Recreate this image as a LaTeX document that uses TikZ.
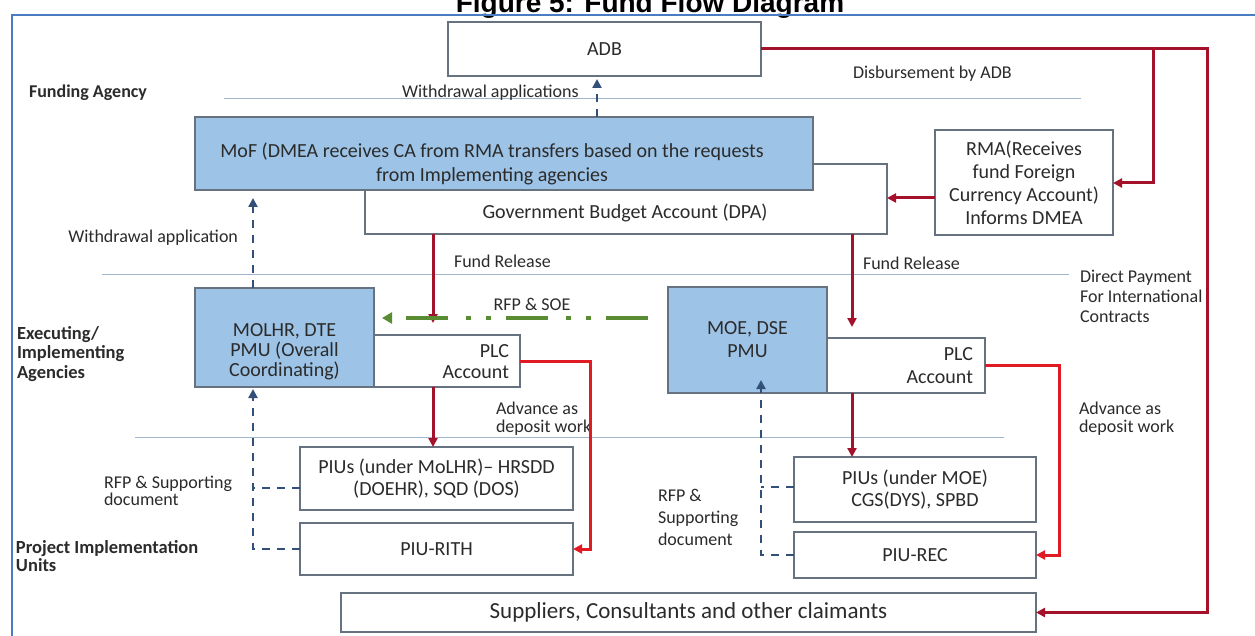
\documentclass[tikz,border=0pt]{standalone}
\usepackage{fontspec}
\setmainfont{Carlito}
\newfontfamily\titlefont{Liberation Sans}
\usetikzlibrary{arrows.meta}
\definecolor{bluefill}{HTML}{9DC3E6}
\definecolor{boxline}{HTML}{66727F}
\definecolor{framecol}{HTML}{4A7CC4}
\definecolor{sepcol}{HTML}{9FB6CC}
\definecolor{darkred}{HTML}{A3122A}
\definecolor{brightred}{HTML}{E01B24}
\definecolor{dashblue}{HTML}{33507A}
\definecolor{dashgreen}{HTML}{5A8C33}
\definecolor{txt}{HTML}{2B2B2B}
\begin{document}
\begin{tikzpicture}[x=1pt,y=-1pt,
  bx/.style={draw=boxline,line width=1.2pt,fill=white,inner sep=0pt,outer sep=0pt,text=txt,align=center,font=\fontsize{20}{22}\selectfont},
  bluebx/.style={bx,fill=bluefill},
  lbl/.style={inner sep=0pt,outer sep=0pt,text=txt,font=\fontsize{18}{20}\selectfont},
  blbl/.style={lbl,font=\fontsize{18}{19}\selectfont\bfseries},
  sepline/.style={draw=sepcol,line width=1pt},
  tipr/.style={-{Triangle[length=9pt,width=9pt]}},
  redline/.style={draw=darkred,line width=3pt},
  brightline/.style={draw=brightred,line width=3pt},
  bdash/.style={draw=dashblue,line width=2.5pt,dash pattern=on 8pt off 7pt},
  gdash/.style={draw=dashgreen,line width=4pt,dash pattern=on 42pt off 15pt on 5pt off 15pt on 5pt off 18pt}
]
\useasboundingbox (0,0) rectangle (1255,636);
\clip (0,0) rectangle (1255,636);
\fill[white] (0,0) rectangle (1255,636);

% title and frame
\node[anchor=base,inner sep=0pt,font={\fontsize{28}{30}\titlefont\bfseries}] (title) at (650,13) {Figure 5: Fund Flow Diagram};
\draw[framecol,line width=2pt] (12,15) rectangle (1290,680);

% separator lines
\draw[sepline] (224,99) -- (1081,99);
\draw[sepline] (102,275) -- (1069,275);
\draw[sepline] (135,437) -- (1004,437);

% boxes
\node[bx,minimum width=313pt,minimum height=54pt] (adb) at (604.5,49) {ADB};
\node[bx,minimum width=522pt,minimum height=70pt] (gov) at (626,199) {};
\node[bluebx,minimum width=618pt,minimum height=73pt] (mof) at (504,153.5) {};
\node[lbl,align=center,font=\fontsize{20}{24}\selectfont] (moftext) at (492,164) {MoF (DMEA receives CA from RMA transfers based on the requests\\from Implementing agencies};
\node[lbl,font=\fontsize{20}{22}\selectfont] (govtext) at (625,213) {Government Budget Account (DPA)};
\node[bx,minimum width=178pt,minimum height=105pt,font=\fontsize{20}{23}\selectfont] (rma) at (1024,182.5) {RMA(Receives\\fund Foreign\\Currency Account)\\Informs DMEA};

\node[bluebx,minimum width=179pt,minimum height=99pt] (molhr) at (284.5,337.5) {};
\node[lbl,align=center,font=\fontsize{20}{20}\selectfont] (molhrtext) at (284.5,352) {MOLHR, DTE\\PMU (Overall\\Coordinating)};
\node[bx,minimum width=146pt,minimum height=52pt] (plca) at (447,361) {};
\node[lbl,anchor=east,align=right,font=\fontsize{20}{21}\selectfont] (plcatext) at (509,362) {PLC\\Account};
\node[bluebx,minimum width=159pt,minimum height=106pt,font=\fontsize{20}{23}\selectfont] (moe) at (747.5,340) {MOE, DSE\\PMU};
\node[bx,minimum width=158pt,minimum height=55pt] (plcb) at (906,365.5) {};
\node[lbl,anchor=east,align=right,font=\fontsize{20}{23}\selectfont] (plcbtext) at (973,366) {PLC\\Account};

\node[bx,minimum width=273pt,minimum height=63pt] (piusa) at (436.5,478.5) {PIUs (under MoLHR)-- HRSDD\\(DOEHR), SQD (DOS)};
\node[bx,minimum width=273pt,minimum height=52pt] (piurith) at (436.5,549) {PIU-RITH};
\node[bx,minimum width=242pt,minimum height=65pt] (piusb) at (915,489.5) {PIUs (under MOE)\\CGS(DYS), SPBD};
\node[bx,minimum width=242pt,minimum height=46pt] (piurec) at (915,555) {PIU-REC};
\node[bx,minimum width=695pt,minimum height=39pt,font=\fontsize{23}{25}\selectfont] (supp) at (688.5,612.5) {Suppliers, Consultants and other claimants};

% labels
\node[blbl,anchor=west] (lfund) at (29,93) {Funding Agency};
\node[blbl,anchor=west,align=left,font=\fontsize{18.5}{19.5}\selectfont\bfseries] (lexec) at (17,354) {Executing/\\Implementing\\Agencies};
\node[blbl,anchor=west,align=left,font=\fontsize{18.5}{18}\selectfont\bfseries] (lpiu) at (16,556) {Project Implementation\\Units};
\node[lbl,anchor=west] (lwapps) at (402,93) {Withdrawal applications};
\node[lbl,anchor=west] (ldisb) at (853,74) {Disbursement by ADB};
\node[lbl,anchor=east] (lwapp) at (238,238) {Withdrawal application};
\node[lbl,anchor=west] (lfra) at (454,261) {Fund Release};
\node[lbl,anchor=west] (lfrb) at (863,263) {Fund Release};
\node[lbl] (lrfpsoe) at (532,304) {RFP \& SOE};
\node[lbl,anchor=west,align=left,font=\fontsize{18}{20}\selectfont] (ldirect) at (1080,296) {Direct Payment\\For International\\Contracts};
\node[lbl,anchor=west,align=left,font=\fontsize{18}{18}\selectfont] (ladva) at (496,419) {Advance as\\deposit work};
\node[lbl,anchor=west,align=left,font=\fontsize{18}{18}\selectfont] (ladvb) at (1079,419) {Advance as\\deposit work};
\node[lbl,anchor=west,align=left,font=\fontsize{18}{17}\selectfont] (lrfpa) at (104,491) {RFP \& Supporting\\document};
\node[lbl,anchor=west,align=left,font=\fontsize{18}{22}\selectfont] (lrfpb) at (658,517) {RFP \&\\Supporting\\document};

% helper coordinates
\coordinate (fra) at (433,0);
\coordinate (frb) at (852,0);
\coordinate (lx) at (253,0);
\coordinate (rx) at (761,0);
\coordinate (ax) at (597,0);
\coordinate (rtop) at (1207,49);
\coordinate (rbot) at (1207,612.5);
\coordinate (btop) at (1153,49);
\coordinate (bbot) at (1153,183);
\coordinate (rmay) at (0,198);
\coordinate (ca) at (590,361);
\coordinate (cb) at (590,549);
\coordinate (cc) at (1059,365.5);
\coordinate (cd) at (1059,555);
\coordinate (gstart) at (648,318);
\coordinate (moetip) at (761,380);
\coordinate (ya) at (0,488);
\coordinate (yb) at (0,487);

% red connectors
\draw[redline,tipr] (adb.east) -- (rtop) -- (rbot) -- (supp.east);
\draw[redline,tipr] (btop) -- (bbot) -- (rma.east |- bbot);
\draw[redline,tipr] (rma.west |- rmay) -- (gov.east |- rmay);
\draw[redline,tipr,shorten >=12pt] (gov.south -| fra) -- (plca.north -| fra);
\draw[redline,tipr,shorten >=11pt] (gov.south -| frb) -- (plcb.north -| frb);
\draw[redline,tipr] (plca.south -| fra) -- (piusa.north -| fra);
\draw[redline,tipr] (plcb.south -| frb) -- (piusb.north -| frb);
\draw[brightline,tipr] (plca.east) -- (ca) -- (cb) -- (piurith.east);
\draw[brightline,tipr] (plcb.east) -- (cc) -- (cd) -- (piurec.east);

% blue dashed connectors
\draw[bdash,tipr,shorten >=3pt] (mof.north -| ax) -- (adb.south -| ax);
\draw[bdash,tipr,shorten >=8pt] (molhr.north -| lx) -- (mof.south -| lx);
\draw[bdash,tipr,shorten >=2pt] (piurith.west) -| (molhr.south -| lx);
\draw[bdash] (piusa.west |- ya) -- (lx |- ya);
\draw[bdash,tipr] (piurec.west) -| (moetip);
\draw[bdash] (piusb.west |- yb) -- (rx |- yb);

% green dash-dot connector
\draw[gdash,-{Triangle[length=10pt,width=11pt]},shorten >=8pt] (gstart) -- (molhr.east |- gstart);
\end{tikzpicture}
\end{document}
